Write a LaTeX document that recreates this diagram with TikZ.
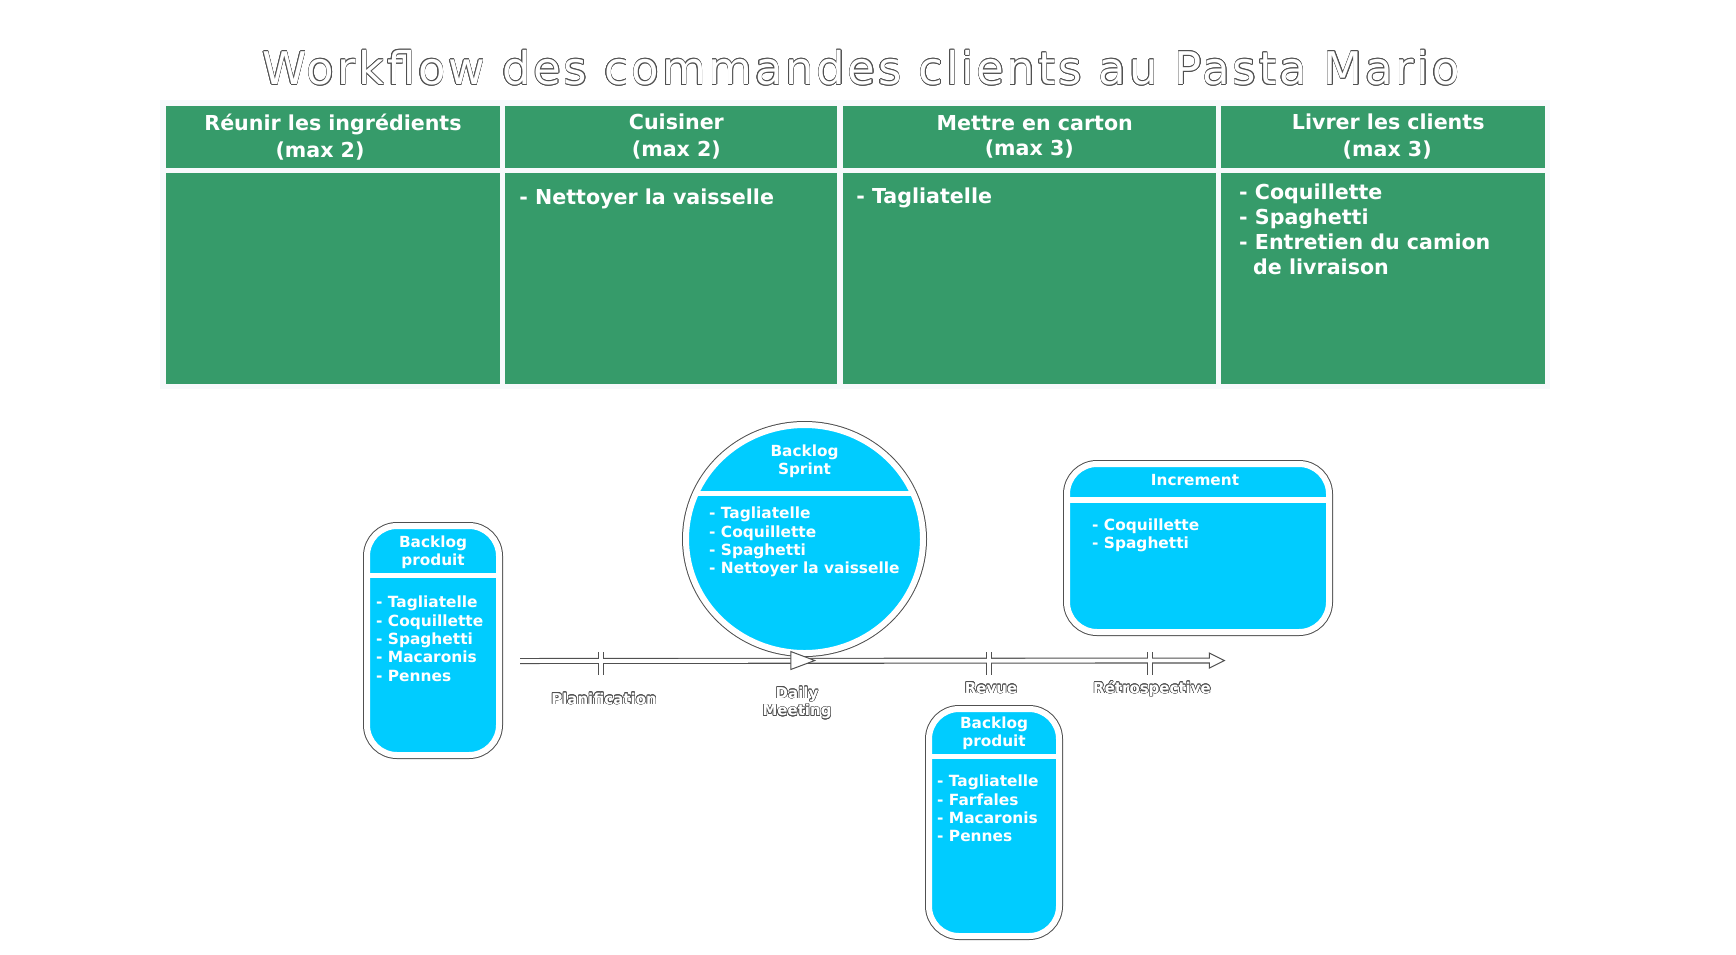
\documentclass[tikz,border=0pt]{standalone}
\usepackage{fontspec}
\setmainfont{DejaVu Sans}
\usepackage{contour}
\contourlength{0.55pt}
\usetikzlibrary{shapes.geometric,positioning}

\definecolor{tgreen}{RGB}{54,155,106}
\definecolor{tpale}{RGB}{247,249,252}
\definecolor{pcyan}{RGB}{0,204,255}
\definecolor{pedge}{RGB}{80,80,80}

\newcommand{\hollow}[1]{\contour{pedge}{#1}}

\begin{document}
\begin{tikzpicture}[
    x=1pt, y=-1pt,
    ttl/.style={text=white, font=\fontsize{45}{54}\selectfont\addfontfeatures{LetterSpace=6}, inner sep=0pt},
    board/.style={fill=tpale, inner sep=0pt, minimum width=1390pt, minimum height=289pt},
    hcell/.style={fill=tgreen, text=white, font=\fontsize{20.6}{27}\selectfont\bfseries,
        align=center, inner sep=0pt, minimum height=62pt},
    bcell/.style={fill=tgreen, inner sep=0pt, minimum height=211pt},
    ctext/.style={text=white, font=\fontsize{20.6}{25}\selectfont\bfseries, align=left, inner sep=0pt},
    pshape/.style={fill=pcyan, draw=white, line width=6pt, inner sep=0pt,
        preaction={draw=pedge, line width=8pt}},
    pbox/.style={pshape, rounded corners=30pt},
    band/.style={path picture={\draw[white, line width=5.5pt]
        ([yshift=-#1]path picture bounding box.north west) --
        ([yshift=-#1]path picture bounding box.north east);}},
    phead/.style={text=white, font=\fontsize{15.3}{17.7}\selectfont\bfseries, align=center, inner sep=0pt},
    pitem/.style={text=white, font=\fontsize{15.4}{18.3}\selectfont\bfseries, align=left, inner sep=0pt},
    tedge/.style={draw=pedge, line width=6pt},
    tcore/.style={draw=white, line width=3.8pt},
    tri/.style={isosceles triangle, isosceles triangle stretches, draw=pedge, fill=white,
        line width=1pt, inner sep=0pt},
    tlabel/.style={text=white, font=\fontsize{15}{17.6}\selectfont\bfseries, align=center, inner sep=0pt}
]
\useasboundingbox (0,0) rectangle (1736,954);

% Title
\node[ttl] (title) at (861,68) {\hollow{Workflow des commandes clients au Pasta Mario}};

% Kanban board
\node[board] (board) at (855,244.5) {};
\node[hcell, minimum width=334pt] (h1) at (333,137) {R\'eunir les ingr\'edients\\(max 2)\hspace*{26pt}};
\node[hcell, minimum width=332pt, right=5pt of h1] (h2) {\hspace*{10pt}Cuisiner\\\hspace*{10pt}(max 2)};
\node[hcell, minimum width=373pt, right=5pt of h2] (h3) {\hspace*{11pt}Mettre en carton\\[-1.5pt](max 3)};
\node[hcell, minimum width=324pt, right=5pt of h3] (h4) {\hspace*{10pt}Livrer les clients\\\hspace*{8pt}(max 3)};
\node[bcell, minimum width=334pt, below=5pt of h1] (b1) {};
\node[bcell, minimum width=332pt, below=5pt of h2] (b2) {};
\node[bcell, minimum width=373pt, below=5pt of h3] (b3) {};
\node[bcell, minimum width=324pt, below=5pt of h4] (b4) {};
\node[ctext, below right=15.5pt and 14pt of b2.north west] (t2) {- Nettoyer la vaisselle};
\node[ctext, below right=14.5pt and 13.5pt of b3.north west] (t3) {- Tagliatelle};
\node[ctext, below right=10.5pt and 18pt of b4.north west] (t4)
    {- Coquillette\\- Spaghetti\\- Entretien du camion\\\hspace*{14pt}de livraison};

% Sprint timeline
\coordinate (tl0) at (520,661);
\coordinate (plan) at (601,663.5);
\coordinate (rev) at (989,663.5);
\coordinate (retro) at (1150,663.5);
\node[tri, minimum width=15pt, minimum height=15pt] (tip) at (1214,660.5) {};
\draw[tedge] (tl0) -- (tip.west);
\draw[tedge] ([yshift=11.5pt]plan) -- ([yshift=-11.5pt]plan);
\draw[tedge] ([yshift=11.5pt]rev) -- ([yshift=-11.5pt]rev);
\draw[tedge] ([yshift=11.5pt]retro) -- ([yshift=-11.5pt]retro);
\draw[tcore] (tl0) -- (tip.center);
\draw[tcore] ([yshift=11.5pt]plan) -- ([yshift=-11.5pt]plan);
\draw[tcore] ([yshift=11.5pt]rev) -- ([yshift=-11.5pt]rev);
\draw[tcore] ([yshift=11.5pt]retro) -- ([yshift=-11.5pt]retro);

% Scrum artefacts
\node[pbox, band=49.5pt, minimum width=132pt, minimum height=229pt] (bp1) at (433,640.5) {};
\node[pshape, ellipse, band=68.5pt, minimum width=237pt, minimum height=228pt] (sprint) at (804.5,539) {};
\node[pbox, band=36pt, minimum width=262pt, minimum height=168pt] (incr) at (1198,548) {};
\node[pbox, band=47.5pt, minimum width=130pt, minimum height=227pt] (bp2) at (994,822.5) {};
\node[tri, minimum width=18pt, minimum height=24pt] (daily) at (797,660.5) {};

\node[phead, below=13pt of bp1.north] (bp1h) {Backlog\\produit};
\node[pitem, below right=73pt and 12pt of bp1.north west] (bp1i)
    {- Tagliatelle\\- Coquillette\\- Spaghetti\\- Macaronis\\- Pennes};
\node[phead, below=23pt of sprint.north] (sprinth) {Backlog\\Sprint};
\node[pitem, below right=85pt and -95.5pt of sprint.north] (sprinti)
    {- Tagliatelle\\- Coquillette\\- Spaghetti\\- Nettoyer la vaisselle};
\node[phead, below=13.5pt of incr.north, xshift=-3pt] (incrh) {Increment};
\node[pitem, below right=57.5pt and 28pt of incr.north west] (incri) {- Coquillette\\- Spaghetti};
\node[phead, below=11pt of bp2.north] (bp2h) {Backlog\\produit};
\node[pitem, below right=69pt and 11pt of bp2.north west] (bp2i)
    {- Tagliatelle\\- Farfales\\- Macaronis\\- Pennes};

% Timeline labels
\node[tlabel, below=29pt of plan, xshift=3pt] (planl) {\hollow{Planification}};
\node[tlabel, below=19pt of daily] (dailyl) {\hollow{Daily}\\\hollow{Meeting}};
\node[tlabel, below=18.5pt of rev, xshift=2pt] (revl) {\hollow{Revue}};
\node[tlabel, below=17.5pt of retro, xshift=2pt] (retrol) {\hollow{R\'etrospective}};

\end{tikzpicture}
\end{document}
